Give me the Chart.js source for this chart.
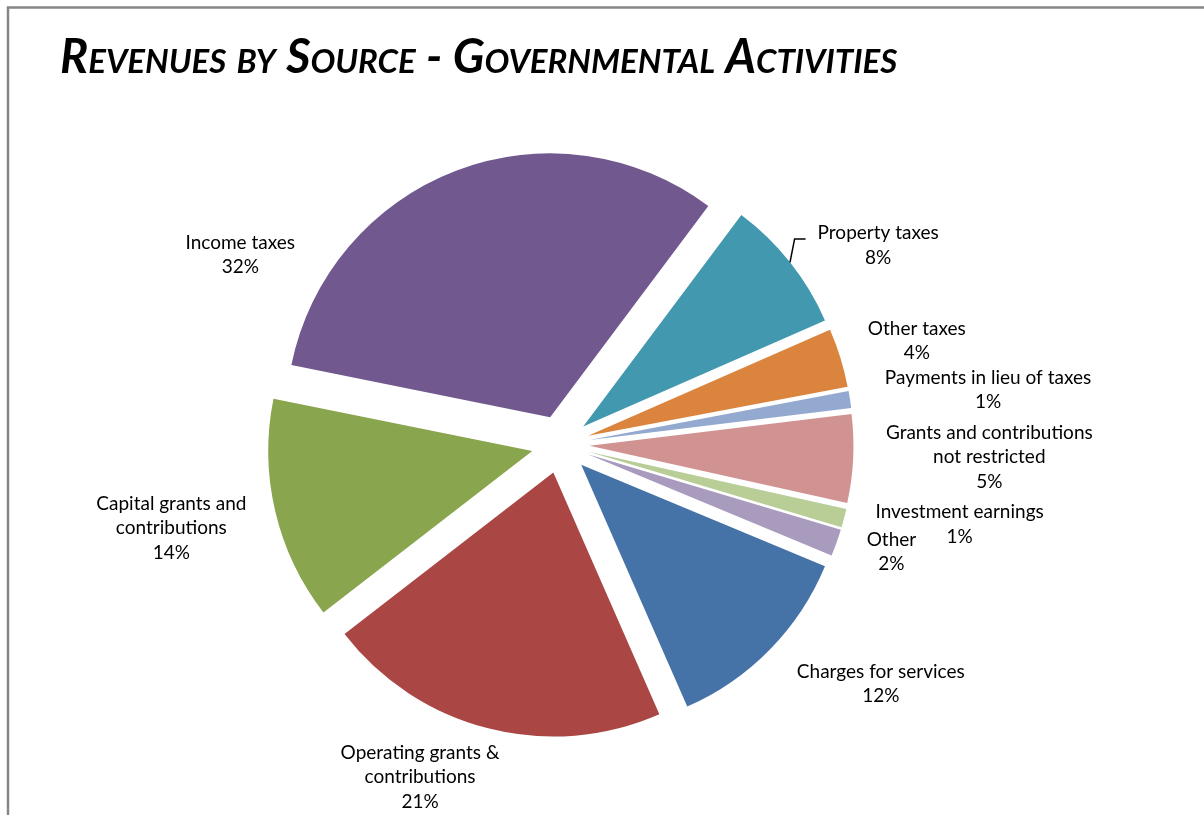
<!DOCTYPE html>
<html>
<head>
<meta charset="utf-8">
<title>Revenues by Source - Governmental Activities</title>
<script src="https://cdn.jsdelivr.net/npm/chart.js@4.4.1/dist/chart.umd.min.js"></script>
<style>
  html, body { margin: 0; padding: 0; background: #fff; }
  canvas { display: block; }
</style>
</head>
<body>
<canvas id="myChart" width="1204" height="815"></canvas>
<script>
// slices, clockwise starting with property taxes
const categories = [
  ["Property taxes"],
  ["Other taxes"],
  ["Payments in lieu of taxes"],
  ["Grants and contributions", "not restricted"],
  ["Investment earnings"],
  ["Other"],
  ["Charges for services"],
  ["Operating grants &", "contributions"],
  ["Capital grants and", "contributions"],
  ["Income taxes"]
];
// share of total revenue (percent)
const revenueShare = [8.2, 3.6, 1.05, 5.4, 1.15, 1.65, 12.15, 21.1, 13.65, 32.05];

const sliceColors = [
  "#4198AF", "#DB843D", "#93A9CF", "#D19392", "#B9CD96",
  "#A99BBD", "#4572A7", "#AA4643", "#89A54E", "#71588F"
];

// where each data label sits: angle (deg, clockwise from 12 o'clock) and distance past the rim
const labelSpots = [
  [57.9, 111], [73.8, 107], [82.7, 167], [91.7, 165], [101.3, 143],
  [108.0, 84], [126.8, 136], [202.9, 97], [257.9, 134], [300.6, 108]
];
const hasLeader = [true, false, false, false, false, false, false, false, false, false];

const pieRadius = 264;
const explode = 29;
const firstSliceAngle = 36.8;
const labelFont = "19px Lato";
const lineGap = 24.5;

// push every slice out from the centre (Excel style exploded pie)
const explodePlugin = {
  id: "explode",
  afterDatasetUpdate(chart, args) {
    const arcs = args.meta.data;
    if (!arcs.length) return;
    chart.$pieCenter = { x: arcs[0].x, y: arcs[0].y };
    arcs.forEach(arc => {
      const mid = (arc.startAngle + arc.endAngle) / 2;
      arc.x = chart.$pieCenter.x + Math.cos(mid) * explode;
      arc.y = chart.$pieCenter.y + Math.sin(mid) * explode;
    });
  }
};

// grey frame around the chart
const framePlugin = {
  id: "frame",
  beforeDraw(chart) {
    const ctx = chart.ctx;
    ctx.save();
    ctx.fillStyle = "#fff";
    ctx.fillRect(0, 0, chart.width, chart.height);
    ctx.strokeStyle = "#878787";
    ctx.lineWidth = 2.5;
    ctx.beginPath();
    ctx.moveTo(8, chart.height);
    ctx.lineTo(8, 7.5);
    ctx.lineTo(chart.width, 7.5);
    ctx.stroke();
    ctx.restore();
  }
};

const labelPlugin = {
  id: "sliceLabels",
  afterDatasetsDraw(chart) {
    const ctx = chart.ctx;
    const meta = chart.getDatasetMeta(0);
    const c = chart.$pieCenter;
    const total = revenueShare.reduce((a, b) => a + b, 0);
    ctx.save();
    ctx.font = labelFont;
    ctx.fillStyle = "#000";
    ctx.textAlign = "center";
    ctx.textBaseline = "middle";
    meta.data.forEach((arc, i) => {
      const pct = Math.round(revenueShare[i] / total * 100) + "%";
      const lines = categories[i].concat([pct]);
      const a = labelSpots[i][0] * Math.PI / 180;
      const dist = arc.outerRadius + labelSpots[i][1];
      const lx = c.x + Math.sin(a) * dist;
      const ly = c.y - Math.cos(a) * dist;
      const y0 = ly - (lines.length - 1) * lineGap / 2;
      lines.forEach((t, k) => ctx.fillText(t, lx, y0 + k * lineGap));

      if (hasLeader[i]) {
        const mid = (arc.startAngle + arc.endAngle) / 2;
        const sx = arc.x + Math.cos(mid) * arc.outerRadius;
        const sy = arc.y + Math.sin(mid) * arc.outerRadius;
        const ex = lx - ctx.measureText(lines[0]).width / 2 - 12;
        const ey = y0 + 6;
        ctx.strokeStyle = "#000";
        ctx.lineWidth = 1.5;
        ctx.beginPath();
        ctx.moveTo(sx, sy);
        ctx.lineTo(ex - 11, ey);
        ctx.lineTo(ex, ey);
        ctx.stroke();
      }
    });
    ctx.restore();
  }
};

const ctx = document.getElementById("myChart").getContext("2d");
const myPieChart = new Chart(ctx, {
  type: "pie",
  data: {
    labels: categories,
    datasets: [{
      data: revenueShare,
      backgroundColor: sliceColors,
      borderWidth: 0,
      clip: false
    }]
  },
  options: {
    responsive: false,
    animation: false,
    events: [],
    radius: pieRadius,
    rotation: firstSliceAngle,
    layout: { padding: { left: 60, right: 143, top: 0, bottom: 12 } },
    plugins: {
      legend: { display: false },
      tooltip: { enabled: false },
      title: {
        display: true,
        text: "Revenues by Source - Governmental Activities",
        align: "start",
        color: "#000",
        font: { family: "Lato", size: 47, style: "italic", weight: "small-caps bold", lineHeight: 1.2 },
        padding: { top: 29.5, bottom: 0 }
      }
    }
  },
  plugins: [framePlugin, explodePlugin, labelPlugin]
});
</script>
</body>
</html>
